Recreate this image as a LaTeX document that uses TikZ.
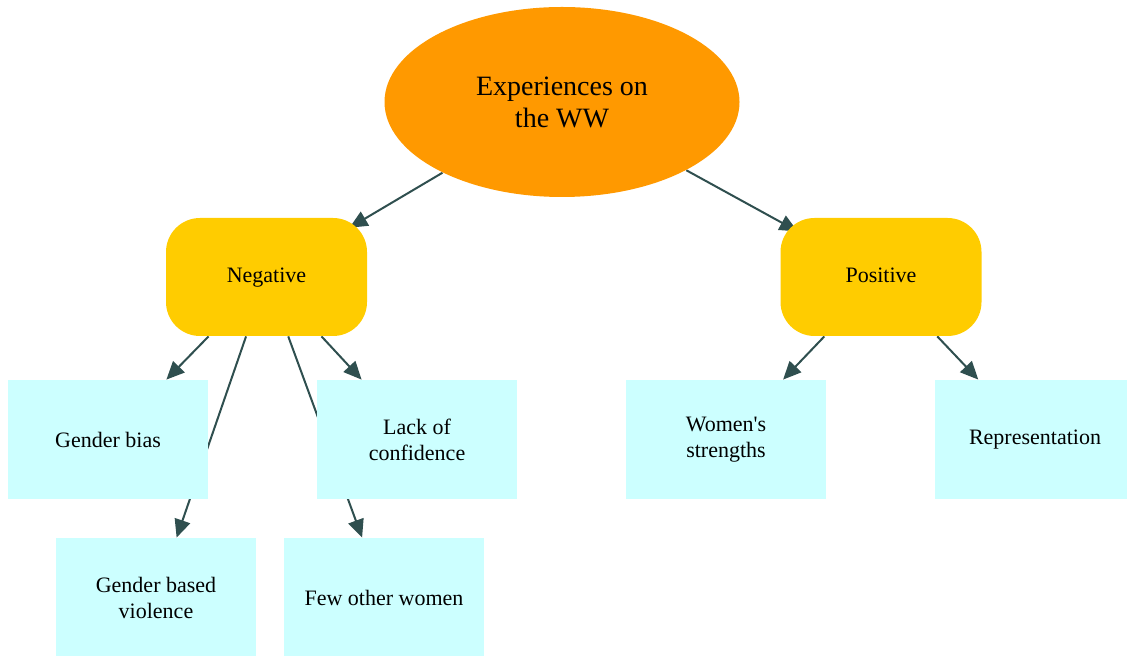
\documentclass[tikz,border=0pt]{standalone}
\usepackage{fontspec}
\setmainfont{Liberation Serif}
\usetikzlibrary{shapes.geometric,arrows.meta}
\pgfdeclarelayer{background}
\pgfsetlayers{background,main}
\definecolor{rootorange}{HTML}{FF9900}
\definecolor{branchgold}{HTML}{FFCC00}
\definecolor{leafcyan}{HTML}{CCFFFF}
\definecolor{linkslate}{HTML}{2F4F4F}

\begin{document}
\begin{tikzpicture}[
        x=0.5pt, y=-0.5pt,
        % Nodo centrale: ellisse arancione
        root/.style={
            ellipse,
            fill=rootorange,
            minimum width=177.5pt,
            minimum height=95pt,
            inner sep=0pt,
            align=center,
            font=\fontsize{14}{16}\selectfont
        },
        branch/.style={
            fill=branchgold,
            rounded corners=17pt,
            minimum width=100.5pt,
            minimum height=59pt,
            text height=1.5ex,
            text depth=.25ex,
            font=\fontsize{11}{13}\selectfont
        },
        leaf/.style={
            fill=leafcyan,
            minimum width=100pt,
            minimum height=59.5pt,
            align=center,
            font=\fontsize{11}{13}\selectfont
        },
        link/.style={
            draw=linkslate,
            line width=1pt,
            -{Triangle[length=9pt,width=8pt]}
        },
        % le frecce verso i rami entrano negli angoli arrotondati
        deep/.style={
            shorten >=-10pt
        }
    ]

    \useasboundingbox (0,0) rectangle (1127,656);

    \node[root] (root) at (562, 102) {Experiences on\\the WW};

    \node[branch] (neg) at (266.5, 277) {Negative};
    \node[branch] (pos) at (881, 277) {Positive};

    % --- Foglie del ramo negativo ---
    \node[leaf] (bias) at (108, 439.5) {Gender bias};
    \node[leaf] (lack) at (417, 439.5) {Lack of\\confidence};
    \node[leaf] (viol) at (156, 597.5) {Gender based\\violence};
    \node[leaf] (few) at (384, 597.5) {Few other women};

    % --- Foglie del ramo positivo ---
    \node[leaf] (stren) at (726, 439.5) {Women\textquotesingle s\\strengths};
    \node[leaf] (repr) at (1035, 439.5) {Representation};

    % Collegamenti sotto i nodi
    \begin{pgfonlayer}{background}
        \draw[link, deep] (root) -- (neg);
        \draw[link, deep] (root) -- (pos);
        \foreach \a/\b in {neg/bias, neg/viol, neg/few, neg/lack, pos/stren, pos/repr} {
            \draw[link] (\a) -- (\b);
        }
    \end{pgfonlayer}

\end{tikzpicture}
\end{document}
